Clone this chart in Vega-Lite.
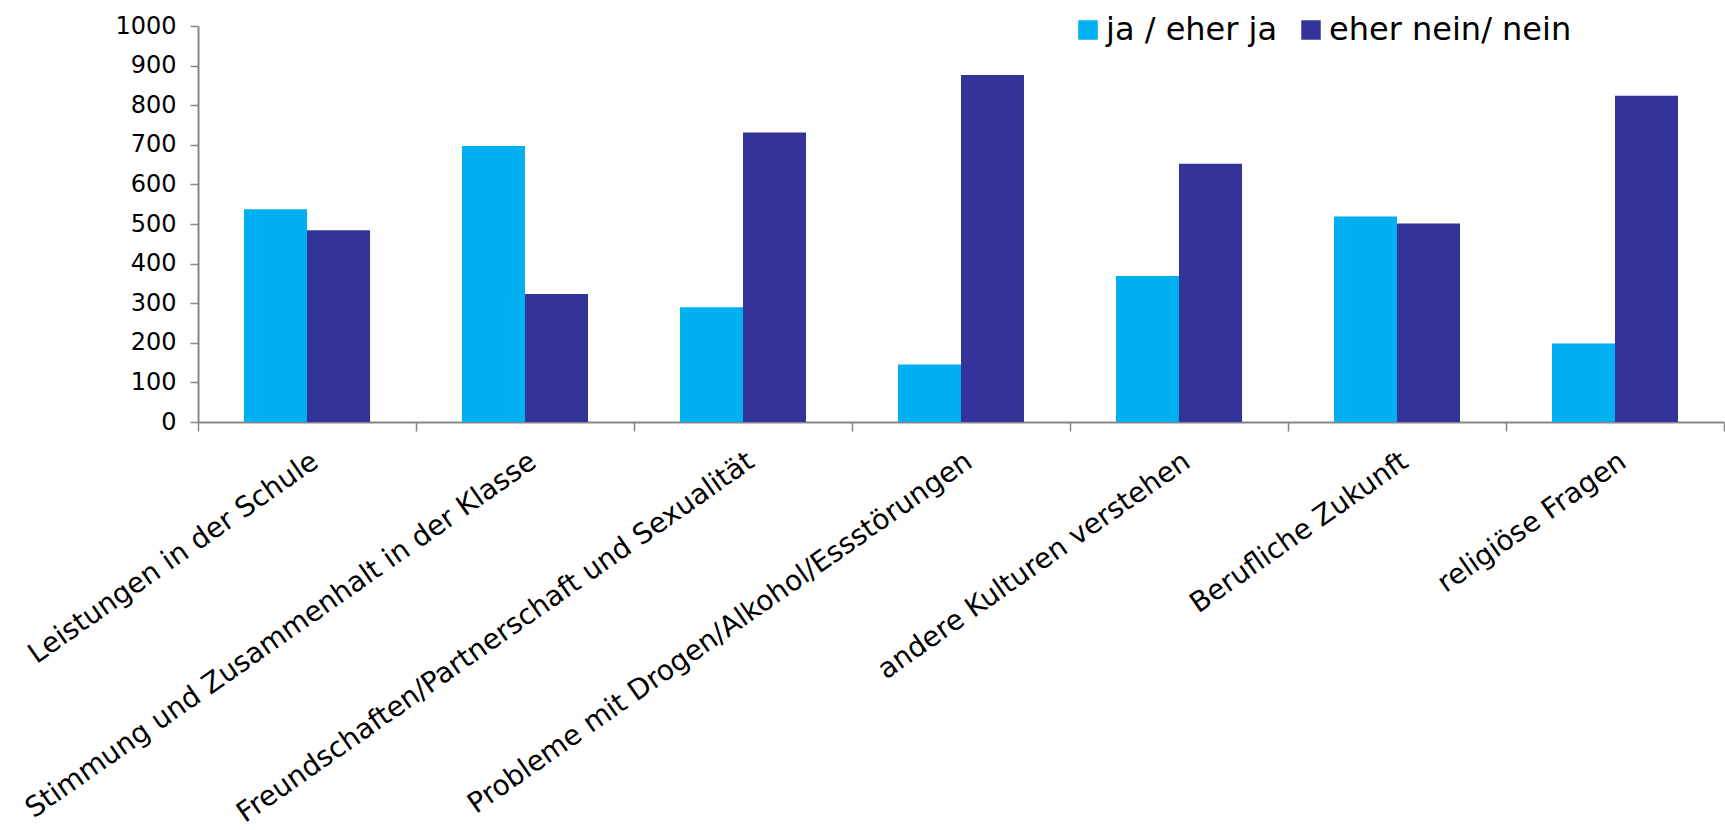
{
  "$schema": "https://vega.github.io/schema/vega-lite/v6.json",
  "width": 1526,
  "height": 396,
  "autosize": {"type": "none"},
  "padding": {"left": 198, "top": 26, "right": 1, "bottom": 408},
  "background": "white",
  "config": {"view": {"stroke": null}, "font": "DejaVu Sans"},
  "data": {
    "values": [
      {"Kategorie": "Leistungen in der Schule", "Antwort": "ja / eher ja", "Anzahl": 537},
      {"Kategorie": "Leistungen in der Schule", "Antwort": "eher nein/ nein", "Anzahl": 484},
      {"Kategorie": "Stimmung und Zusammenhalt in der Klasse", "Antwort": "ja / eher ja", "Anzahl": 697},
      {"Kategorie": "Stimmung und Zusammenhalt in der Klasse", "Antwort": "eher nein/ nein", "Anzahl": 323},
      {"Kategorie": "Freundschaften/Partnerschaft und Sexualität", "Antwort": "ja / eher ja", "Anzahl": 290},
      {"Kategorie": "Freundschaften/Partnerschaft und Sexualität", "Antwort": "eher nein/ nein", "Anzahl": 731},
      {"Kategorie": "Probleme mit Drogen/Alkohol/Essstörungen", "Antwort": "ja / eher ja", "Anzahl": 145},
      {"Kategorie": "Probleme mit Drogen/Alkohol/Essstörungen", "Antwort": "eher nein/ nein", "Anzahl": 876},
      {"Kategorie": "andere Kulturen verstehen", "Antwort": "ja / eher ja", "Anzahl": 369},
      {"Kategorie": "andere Kulturen verstehen", "Antwort": "eher nein/ nein", "Anzahl": 652},
      {"Kategorie": "Berufliche Zukunft", "Antwort": "ja / eher ja", "Anzahl": 519},
      {"Kategorie": "Berufliche Zukunft", "Antwort": "eher nein/ nein", "Anzahl": 501},
      {"Kategorie": "religiöse Fragen", "Antwort": "ja / eher ja", "Anzahl": 198},
      {"Kategorie": "religiöse Fragen", "Antwort": "eher nein/ nein", "Anzahl": 824}
    ]
  },
  "mark": {"type": "bar"},
  "encoding": {
    "x": {
      "field": "Kategorie",
      "type": "nominal",
      "sort": null,
      "scale": {"paddingInner": 0, "paddingOuter": 0},
      "axis": {
        "title": null,
        "labelAngle": -35,
        "labelAlign": "right",
        "labelBaseline": "top",
        "labelFontSize": 28,
        "labelLimit": 1000,
        "labelPadding": 16,
        "labelColor": "#000000",
        "tickBand": "extent",
        "tickSize": 9,
        "tickColor": "#878787",
        "tickWidth": 1.5,
        "domainColor": "#878787",
        "domainWidth": 2
      }
    },
    "xOffset": {
      "field": "Antwort",
      "type": "nominal",
      "sort": ["ja / eher ja", "eher nein/ nein"],
      "scale": {"paddingInner": 0, "paddingOuter": 0.73}
    },
    "y": {
      "field": "Anzahl",
      "type": "quantitative",
      "scale": {"domain": [0, 1000]},
      "axis": {
        "title": null,
        "values": [0, 100, 200, 300, 400, 500, 600, 700, 800, 900, 1000],
        "format": "d",
        "grid": false,
        "labelFontSize": 24,
        "labelColor": "#000000",
        "labelPadding": 14,
        "tickSize": 8,
        "tickColor": "#878787",
        "tickWidth": 1.5,
        "domainColor": "#878787",
        "domainWidth": 2
      }
    },
    "color": {
      "field": "Antwort",
      "type": "nominal",
      "sort": ["ja / eher ja", "eher nein/ nein"],
      "scale": {"domain": ["ja / eher ja", "eher nein/ nein"], "range": ["#00B0F0", "#333399"]},
      "legend": {
        "title": null,
        "orient": "none",
        "legendX": 874,
        "legendY": -12,
        "direction": "horizontal",
        "symbolType": "square",
        "symbolSize": 380,
        "symbolStrokeWidth": 0,
        "labelFontSize": 32,
        "labelLimit": 1000,
        "labelColor": "#000000",
        "labelOffset": 2,
        "columnPadding": 17
      }
    }
  }
}
